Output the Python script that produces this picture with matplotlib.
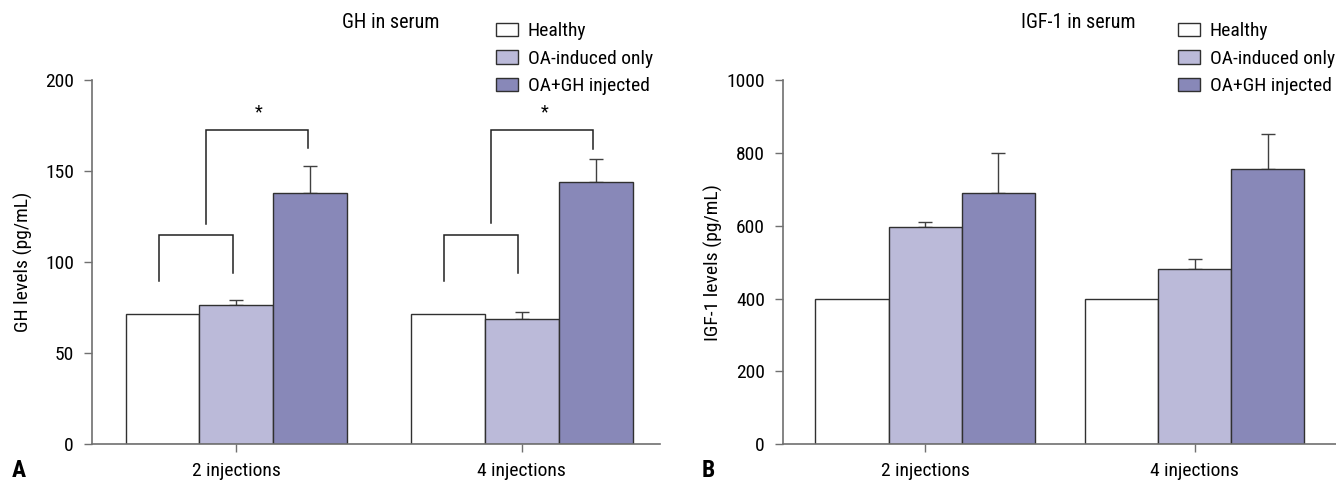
import numpy as np
import matplotlib
matplotlib.use("Agg")
import matplotlib.pyplot as plt
from matplotlib.patches import Patch

plt.rcParams['font.family'] = ['Liberation Sans Narrow', 'Roboto Condensed', 'DejaVu Sans Condensed', 'Roboto', 'DejaVu Sans']

groups = ["2 injections", "4 injections"]
series = ["Healthy", "OA-induced only", "OA+GH injected"]
colors = ["#ffffff", "#bbbad9", "#8888b8"]

gh_values = [[71.4, 71.4], [76.7, 68.9], [137.9, 144.1]]
gh_errors = [[0, 0], [2.6, 4.0], [15.0, 12.5]]

igf_values = [[400, 400], [597, 482], [691, 757]]
igf_errors = [[0, 0], [14, 27], [108, 95]]

gh_ticks = [0, 50, 100, 150, 200]
igf_ticks = [0, 200, 400, 600, 800, 1000]

# significance brackets for GH panel: (left leg bottom, top, right leg bottom)
bracket_low = [(89.7, 115.0, 94.0), (89.7, 114.7, 94.3)]
bracket_high = [(121.0, 172.8, 162.5), (121.5, 172.5, 162.0)]
star_y = 182.0

W, H = 1336, 483
fig = plt.figure(figsize=(W / 100, H / 100), dpi=100)

axL = fig.add_axes([92 / W, 1 - 444.3 / H, (659.5 - 92) / W, (444.3 - 80) / H])
axR = fig.add_axes([783 / W, 1 - 444.3 / H, (1336 - 783) / W, (444.3 - 80) / H])

spine_col = "#707070"
edge_col = "#303030"
tick_fs = 14


def draw(ax, values, errors, ticks, bw, xlim, ylabel):
    x = np.arange(len(groups))
    for i in range(len(series)):
        pos = x + (i - 1) * bw
        ax.bar(pos, values[i], width=bw, color=colors[i], edgecolor=edge_col,
               linewidth=1.0, zorder=2, label=series[i])
        err = np.array(errors[i], dtype=float)
        if err.any():
            ax.errorbar(pos, values[i], yerr=[np.zeros_like(err), err], fmt="none",
                        ecolor="#404040", elinewidth=1.0, capsize=5, capthick=1.0, zorder=1)
    ax.set_xlim(*xlim)
    ax.set_ylim(ticks[0], ticks[-1])
    ax.set_yticks(ticks)
    ax.set_xticks(x)
    ax.set_xticklabels(groups, fontsize=tick_fs)
    ax.tick_params(axis="y", labelsize=tick_fs, direction="out", length=6, width=1.0, color=spine_col, pad=7)
    ax.tick_params(axis="x", direction="out", length=5.5, width=1.0, color=spine_col, pad=7)
    for s in ["top", "right"]:
        ax.spines[s].set_visible(False)
    for s in ["left", "bottom"]:
        ax.spines[s].set_color(spine_col)
        ax.spines[s].set_linewidth(1.2)
    ax.spines["left"].set_bounds(ticks[0], ticks[-1])
    ax.set_ylabel(ylabel, fontsize=14)
    ax.set_facecolor("none")


draw(axL, gh_values, gh_errors, gh_ticks, 0.259, (-0.506, 1.483), "GH levels (pg/mL)")
draw(axR, igf_values, igf_errors, igf_ticks, 0.271, (-0.527, 1.525), "IGF-1 levels (pg/mL)")

# brackets on GH panel
for g in range(len(groups)):
    l0, t0, r0 = bracket_low[g]
    xl, xr = g - 0.272, g - 0.012
    axL.plot([xl, xl, xr, xr], [l0, t0, t0, r0], color="#202020", lw=1.1, solid_joinstyle="miter", zorder=3)
    l1, t1, r1 = bracket_high[g]
    xl, xr = g - 0.106, g + 0.25
    axL.plot([xl, xl, xr, xr], [l1, t1, t1, r1], color="#202020", lw=1.1, solid_joinstyle="miter", zorder=3)
    axL.text(g + 0.079, star_y, "*", ha="center", va="center", fontsize=13)

axL.yaxis.set_label_coords(-0.104, 0.5)
axR.yaxis.set_label_coords(-0.108, 0.5)

# titles
fig.text(391 / W, 1 - 22 / H, "GH in serum", ha="center", va="center", fontsize=14.5)
fig.text(1078 / W, 1 - 22 / H, "IGF-1 in serum", ha="center", va="center", fontsize=14.5)

# legends
handles = [Patch(facecolor=colors[i], edgecolor=edge_col, linewidth=1.0, label=series[i]) for i in range(3)]
for xa in [496 / W, 1178 / W]:
    fig.legend(handles=handles, loc="upper left", bbox_to_anchor=(xa, 1 - 22 / H),
               frameon=False, fontsize=14, handlelength=1.13, handleheight=0.67,
               handletextpad=0.5, labelspacing=0.5, borderaxespad=0, borderpad=0)

# panel labels
fig.text(12 / W, 1 - 482 / H, "A", fontsize=17, fontweight="bold", ha="left", va="bottom")
fig.text(702 / W, 1 - 482 / H, "B", fontsize=17, fontweight="bold", ha="left", va="bottom")

fig.savefig("out.png", dpi=100)
